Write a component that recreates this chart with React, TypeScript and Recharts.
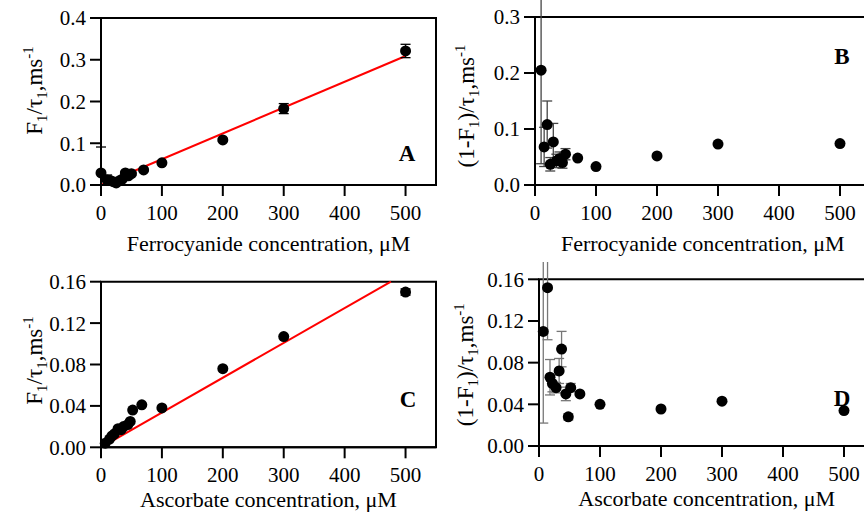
import React from "react";
import {
  ErrorBar,
  ReferenceArea,
  ReferenceLine,
  Scatter,
  ScatterChart,
  XAxis,
  YAxis,
} from "recharts";

const FONT = '"Liberation Serif", "Times New Roman", serif';

// shared x-axis ticks, µM
const concTicks = [0, 100, 200, 300, 400, 500];

// Ferrocyanide (panels A, B)
const ferroConcA = [0, 10, 15, 20, 25, 30, 35, 40, 45, 50, 70, 100, 200, 300, 500];
const ferroFast = [0.029, 0.012, 0.011, 0.008, 0.005, 0.01, 0.014, 0.029, 0.022, 0.027, 0.036, 0.053, 0.108, 0.183, 0.321];
const ferroFastErr = [[0.029, 0.062], 0.012, 0.004, 0.004, 0.003, 0.003, 0.003, 0.003, 0.003, 0.003, 0.002, 0.002, 0.003, 0.012, 0.016];
const ferroFitA = [
  { x: 0, y: 0 },
  { x: 500, y: 0.309 },
];

const ferroConcB = [10, 15, 20, 25, 30, 35, 40, 45, 50, 70, 100, 200, 300, 500];
const ferroSlow = [0.205, 0.068, 0.108, 0.037, 0.077, 0.043, 0.047, 0.04, 0.055, 0.048, 0.033, 0.052, 0.073, 0.074];
const ferroSlowErr = [0.167, 0.035, 0.042, 0.012, 0.033, 0.012, 0.012, 0.01, 0.01, 0, 0, 0, 0, 0];

// Ascorbate (panels C, D)
const ascConc = [7, 14, 18, 22, 28, 33, 37, 44, 48, 52, 67, 100, 200, 300, 500];
const ascFast = [0.004, 0.008, 0.011, 0.013, 0.018, 0.017, 0.02, 0.022, 0.025, 0.036, 0.041, 0.038, 0.076, 0.107, 0.15];
const ascFastErr = [0, 0, 0, 0, 0, 0, 0, 0, 0, 0, 0, 0, 0, 0, 0.003];
const ascFitC = [
  { x: 0, y: 0 },
  { x: 476, y: 0.16 },
];
const ascSlow = [0.11, 0.152, 0.066, 0.06, 0.056, 0.072, 0.093, 0.05, 0.028, 0.056, 0.05, 0.04, 0.0355, 0.043, 0.034];
const ascSlowErr = [0.088, 0.05, 0.017, 0.008, 0.005, 0.012, 0.017, 0.0065, 0.003, 0.004, 0, 0, 0, 0, 0];

const ticksA = [0, 0.1, 0.2, 0.3, 0.4];
const ticksC = [0, 0.04, 0.08, 0.12, 0.16];

type Err = number | number[];
const toRows = (xs: number[], ys: number[], errs: Err[]) =>
  xs.map((x, i) => ({ x, y: ys[i], err: errs[i] }));

const Dot = (p: any) => <circle cx={p.cx} cy={p.cy} r={5.5} fill="#000" />;

const YTitle = ({ viewBox, bx, dy, slow }: any) => {
  const cy = viewBox.y + viewBox.height / 2 + dy;
  return (
    <text
      x={bx}
      y={cy}
      transform={`rotate(-90 ${bx} ${cy})`}
      textAnchor="middle"
      fontFamily={FONT}
      fontSize={23}
      fill="#000"
    >
      {slow ? "(1-F" : "F"}
      <tspan dy={5} fontSize={15}>1</tspan>
      <tspan dy={-5}>{slow ? ")/τ" : "/τ"}</tspan>
      <tspan dy={5} fontSize={15}>1</tspan>
      <tspan dy={-5}>,ms</tspan>
      <tspan dy={-9} fontSize={15}>-1</tspan>
    </text>
  );
};

const XTitle = ({ viewBox, text, dy }: any) => (
  <text
    x={viewBox.x + viewBox.width / 2}
    y={viewBox.y + dy}
    textAnchor="middle"
    fontFamily={FONT}
    fontSize={22}
    fill="#000"
  >
    {text}
  </text>
);

type PanelProps = {
  left: number;
  top: number;
  width: number;
  height: number;
  margin: { top: number; right: number; left: number; bottom: number };
  yWidth: number;
  xHeight: number;
  rows: { x: number; y: number; err: Err }[];
  yTicks: number[];
  digits: number;
  errColor: string;
  fit?: { x: number; y: number }[];
  slow?: boolean;
  titleX: number;
  titleDy: number;
  xTitle: string;
  xTitleDy: number;
  letter: string;
  letterX: number;
  letterY: number;
  clip?: boolean;
};

const axisLine = { stroke: "#000", strokeWidth: 2 };
const tickStyle = { fill: "#000", fontSize: 21, fontFamily: FONT };

const Panel = (p: PanelProps) => {
  const yMax = p.yTicks[p.yTicks.length - 1];
  return (
    <div style={{ position: "absolute", left: p.left, top: p.top }}>
      <ScatterChart width={p.width} height={p.height} margin={p.margin}>
        <XAxis
          type="number"
          dataKey="x"
          domain={[0, 550]}
          ticks={concTicks}
          height={p.xHeight}
          axisLine={axisLine}
          tickLine={axisLine}
          tickSize={11}
          tickMargin={9}
          tick={tickStyle}
          label={<XTitle text={p.xTitle} dy={p.xTitleDy} />}
        />
        <YAxis
          type="number"
          dataKey="y"
          domain={[0, yMax]}
          ticks={p.yTicks}
          width={p.yWidth}
          allowDataOverflow={!!p.clip}
          axisLine={axisLine}
          tickLine={axisLine}
          tickSize={11}
          tickMargin={4}
          tick={tickStyle}
          tickFormatter={(v: number) => v.toFixed(p.digits)}
          label={<YTitle bx={p.titleX} dy={p.titleDy} slow={p.slow} />}
        />
        <ReferenceArea
          x1={0}
          x2={550}
          y1={0}
          y2={yMax}
          fill="none"
          stroke="#000"
          strokeWidth={2}
          ifOverflow="visible"
        />
        {p.fit && (
          <ReferenceLine
            segment={p.fit}
            stroke="#ff0000"
            strokeWidth={2}
            ifOverflow="visible"
          />
        )}
        <Scatter data={p.rows} shape={Dot} isAnimationActive={false}>
          <ErrorBar
            dataKey="err"
            direction="y"
            width={5}
            stroke={p.errColor}
            strokeWidth={1.3}
          />
        </Scatter>
        <text
          x={p.letterX}
          y={p.letterY}
          textAnchor="middle"
          fontFamily={FONT}
          fontWeight="bold"
          fontSize={23}
          fill="#000"
        >
          {p.letter}
        </text>
      </ScatterChart>
    </div>
  );
};

export default function App() {
  return (
    <div
      style={{
        position: "absolute",
        left: 0,
        top: 0,
        width: 864,
        height: 514,
        overflow: "hidden",
        background: "#fff",
        fontFamily: FONT,
      }}
    >
      <Panel
        left={0}
        top={0}
        width={445}
        height={262}
        margin={{ top: 18, right: 9, left: 0, bottom: 0 }}
        yWidth={101}
        xHeight={77}
        rows={toRows(ferroConcA, ferroFast, ferroFastErr)}
        yTicks={ticksA}
        digits={1}
        errColor="#000"
        fit={ferroFitA}
        titleX={42}
        titleDy={-11}
        xTitle="Ferrocyanide concentration, μM"
        xTitleDy={66}
        letter="A"
        letterX={407}
        letterY={161}
      />
      <Panel
        left={440}
        top={0}
        width={440}
        height={262}
        margin={{ top: 17, right: 9.5, left: 0, bottom: 0 }}
        yWidth={95}
        xHeight={77}
        rows={toRows(ferroConcB, ferroSlow, ferroSlowErr)}
        yTicks={[0, 0.1, 0.2, 0.3]}
        digits={1}
        errColor="#444"
        slow
        titleX={34}
        titleDy={5}
        xTitle="Ferrocyanide concentration, μM"
        xTitleDy={66}
        letter="B"
        letterX={402}
        letterY={64}
        clip
      />
      <Panel
        left={0}
        top={262}
        width={445}
        height={252}
        margin={{ top: 19.7, right: 9, left: 0, bottom: 0 }}
        yWidth={101}
        xHeight={66.7}
        rows={toRows(ascConc, ascFast, ascFastErr)}
        yTicks={ticksC}
        digits={2}
        errColor="#000"
        fit={ascFitC}
        titleX={42}
        titleDy={-4}
        xTitle="Ascorbate concentration, μM"
        xTitleDy={60}
        letter="C"
        letterX={408}
        letterY={145}
      />
      <Panel
        left={440}
        top={262}
        width={440}
        height={252}
        margin={{ top: 17.3, right: 5.5, left: 0, bottom: 0 }}
        yWidth={99}
        xHeight={68}
        rows={toRows(ascConc, ascSlow, ascSlowErr)}
        yTicks={ticksC}
        digits={2}
        errColor="#777"
        slow
        titleX={33}
        titleDy={2}
        xTitle="Ascorbate concentration, μM"
        xTitleDy={60}
        letter="D"
        letterX={402}
        letterY={144}
        clip
      />
    </div>
  );
}
